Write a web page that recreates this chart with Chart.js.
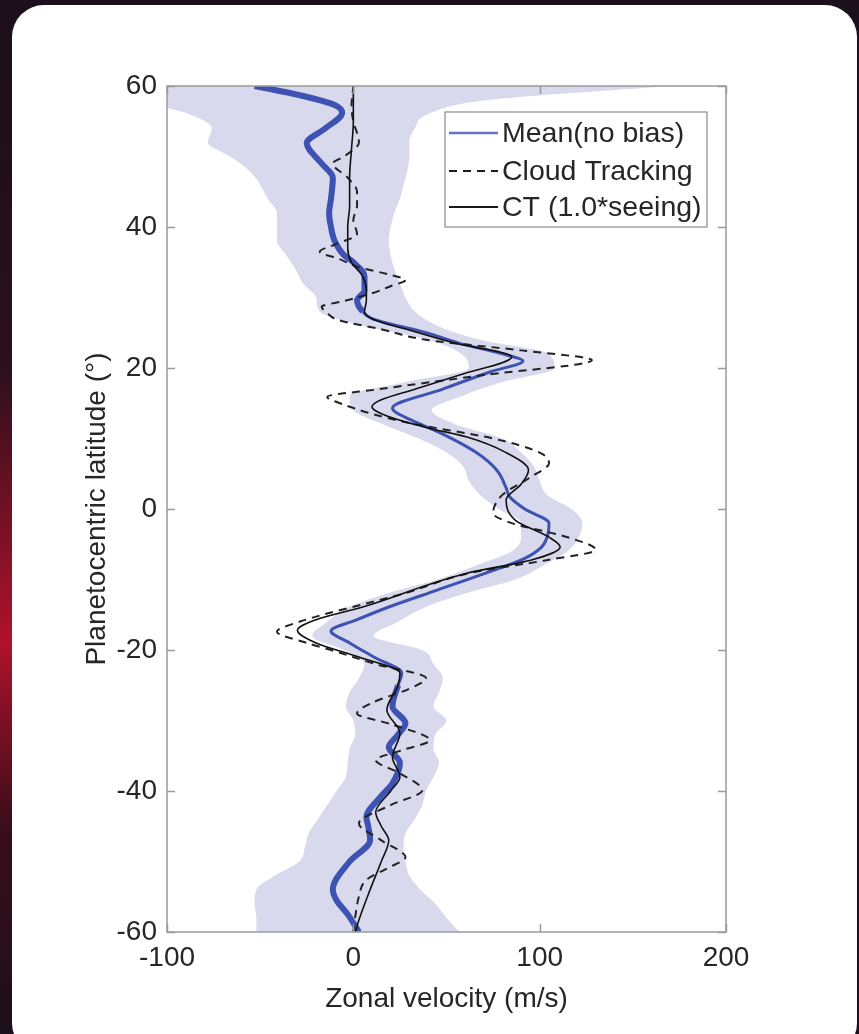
<!DOCTYPE html>
<html>
<head>
<meta charset="utf-8">
<script src="https://cdn.jsdelivr.net/npm/chart.js"></script>
<style>
  html, body { margin: 0; padding: 0; }
  body { width: 859px; height: 1034px; overflow: hidden; position: relative;
         background: #1c101c; }
  #edge { position: absolute; left: 0; top: 0; width: 14px; height: 1034px;
          background: linear-gradient(180deg, #1c101c 0%, #2a0f1c 35%, #b0122a 62%, #3a0d1a 80%, #1c101c 100%); }
  #card { position: absolute; left: 12px; top: 5px; width: 845px; height: 1050px;
          background: #fff; border-radius: 32px; }
  canvas { position: absolute; left: 0; top: 0; }
</style>
</head>
<body>
<div id="edge"></div>
<div id="card"></div>
<canvas id="velChart" width="859" height="1034"></canvas>
<script>
// shaded spread (2 deg latitude grid)
const bandLat = [-60,-58,-56,-54,-52,-50,-48,-46,-44,-42,-40,-38,-36,-34,-32,-30,-28,-26,-24,-22,-20,-18,-16,-14,-12,-10,-8,-6,-4,-2,0,2,4,6,8,10,12,14,16,18,20,22,24,26,28,30,32,34,36,38,40,42,44,46,48,50,52,54,56,58,60];
const bandLow = [-52,-52,-53,-52,-42,-29,-26,-24,-19,-14,-9,-4,-3,-2,1,0,-4,-2,3,6,-5,-22,-14,-3,18,45,66,85,90,90,78,68,62,59,50,35,16,0,-2,28,62,58,40,5,-18,-20,-27,-31,-36,-41,-41,-41,-46,-50,-56,-66,-78,-76,-88,-115,-120];
const bandHigh = [57,50,44,36,30,28,27,28,33,37,39,43,46,43,44,50,43,46,48,43,37,11,24,38,60,87,102,115,121,123,117,104,100,97,90,80,55,42,58,80,108,105,68,45,33,28,25,22,20,19,20,22,25,27,29,30,30,33,40,72,170];

// Mean (no bias)
const meanLat = [-60,-57.5,-55.5,-54,-50,-47,-45,-43.7,-41,-38.9,-36,-33.8,-32,-30.4,-28,-25,-23.3,-21,-19,-17.3,-15.7,-13.9,-11.5,-9.1,-7,-5.4,-4,-2,0,1.7,3,5.5,8,11,12.5,14.3,17,19.5,21,22,23.5,25,27,28,29.6,31,33,35,36,38,40,42,44,47,49,51.9,54,56.2,57.3,58.7,60];
const meanVel = [3,-3,-9,-11,-2,9,8,7,14,21,25,19,24,28,21,24,26,11,-2,-12,2,19,45,71,92,101,104,105,92,84,82,77,66,45,32,21,48,74,91,80,57,39,10,5,2,6,6,0,-5,-10,-12,-13,-12,-11,-17,-25,-15,-6,-10,-29,-53];

// Cloud Tracking (dashed)
const ctLat = [-60,-57.9,-55,-52.6,-51,-49.4,-47,-44.6,-42,-39.9,-37.5,-35.6,-34.3,-32.8,-30.5,-29,-27.5,-25.5,-24,-22,-20,-19,-17.4,-16,-12,-9,-7.2,-5.8,-4,-2,-0.6,2,4.5,6.5,8,10,12.2,13.5,14.8,15.9,17,19,21.1,22.5,24,25.5,26.8,27.8,28.7,29.5,30.6,31.6,32.5,33.2,34.3,35.5,36.5,37.5,39,41,43,45,47,49,50,52,55,57,60];
const ctVel = [0,1,3,7,18,28,15,3,20,37,25,12,25,41,20,2,10,30,39,12,-12,-25,-41,-29,27,64,105,130,115,85,75,80,95,105,100,75,30,10,-5,-14,14,70,128,90,39,15,-8,-14,-17,-5,10,20,28,20,3,-8,-18,-10,2,0,2,2,-3,-11,-5,3,0,-1,0];

// CT (1.0*seeing)
const seeLat = [-60,-58.3,-54,-50,-47,-45,-43,-40,-38,-35.2,-31.8,-28.5,-25,-23.3,-21,-19,-17.2,-15.7,-13.9,-9.1,-7.2,-5.4,-4,-1.6,1.3,3.5,5.5,8,10.2,11.5,13,14.5,15.5,17,19,21.6,23.5,25,27,28,29.6,31,33,35,37,40,43,47,51,55,60];
const seeVel = [1,3,9,15,19,15,12,20,25,21,25,18,24,25,3,-20,-30,-20,5,61,96,111,105,87,82,90,94,82,61,40,20,10,15,33,57,85,55,35,10,6,7,7,5,-1,-3,-3,-2,-2,-1,0,0];

const legendItems = ["Mean(no bias)", "Cloud Tracking", "CT (1.0*seeing)"];

const xTicks = [-100, 0, 100, 200];
const yTicks = [-60, -40, -20, 0, 20, 40, 60];

function pts(lat, vel) {
  return lat.map((v, i) => ({ x: vel[i], y: v }));
}

const textColor = "#262626";
const font = { family: "'Liberation Sans', Arial, sans-serif", size: 28 };

const framePlugin = {
  id: "frame",
  afterDatasetsDraw(chart) {
    const { ctx, chartArea: a, scales: { x, y } } = chart;
    ctx.save();
    ctx.strokeStyle = "#9a9a9a";
    ctx.lineWidth = 1.5;
    ctx.strokeRect(a.left, a.top, a.right - a.left, a.bottom - a.top);
    ctx.beginPath();
    xTicks.forEach(v => {
      const px = Math.round(x.getPixelForValue(v)) + 0.5;
      ctx.moveTo(px, a.bottom); ctx.lineTo(px, a.bottom - 8);
      ctx.moveTo(px, a.top); ctx.lineTo(px, a.top + 8);
    });
    yTicks.forEach(v => {
      const py = Math.round(y.getPixelForValue(v)) + 0.5;
      ctx.moveTo(a.left, py); ctx.lineTo(a.left + 8, py);
      ctx.moveTo(a.right, py); ctx.lineTo(a.right - 8, py);
    });
    ctx.stroke();

    // legend box, top right inside the axes
    const bx = a.right - 281, by = a.top + 26, bw = 262, bh = 115;
    ctx.fillStyle = "#fff";
    ctx.fillRect(bx, by, bw, bh);
    ctx.strokeStyle = "#8c8c8c";
    ctx.lineWidth = 1.2;
    ctx.strokeRect(bx, by, bw, bh);
    const rows = [21, 59, 95];
    const styles = [
      { c: "#6672c4", w: 2.5, d: [] },
      { c: "#1a1a1a", w: 2, d: [8, 6] },
      { c: "#1a1a1a", w: 2, d: [] }
    ];
    ctx.font = "28.5px " + font.family;
    ctx.textBaseline = "middle";
    legendItems.forEach((txt, i) => {
      const ry = by + rows[i];
      ctx.strokeStyle = styles[i].c;
      ctx.lineWidth = styles[i].w;
      ctx.setLineDash(styles[i].d);
      ctx.beginPath();
      ctx.moveTo(bx + 4, ry); ctx.lineTo(bx + 53, ry);
      ctx.stroke();
      ctx.setLineDash([]);
      ctx.fillStyle = textColor;
      ctx.fillText(txt, bx + 57, ry + 1);
    });
    ctx.restore();
  }
};

new Chart(document.getElementById("velChart"), {
  type: "line",
  data: {
    datasets: [
      {
        label: "high",
        data: pts(bandLat, bandHigh),
        borderWidth: 0,
        pointRadius: 0,
        backgroundColor: "#d9d9ee",
        fill: "+1",
        cubicInterpolationMode: "monotone",
        order: 10
      },
      {
        label: "low",
        data: pts(bandLat, bandLow),
        borderWidth: 0,
        pointRadius: 0,
        fill: false,
        cubicInterpolationMode: "monotone",
        order: 11
      },
      {
        label: legendItems[0],
        data: pts(meanLat, meanVel),
        borderColor: "#3d52b1",
        borderWidth: 3,
        segment: {
          borderWidth: c => Math.abs(c.p0.parsed.y) > 27 ? 6 : 3
        },
        pointRadius: 0,
        fill: false,
        cubicInterpolationMode: "monotone",
        order: 3
      },
      {
        label: legendItems[1],
        data: pts(ctLat, ctVel),
        borderColor: "#222",
        borderWidth: 2,
        borderDash: [8, 6],
        pointRadius: 0,
        fill: false,
        cubicInterpolationMode: "monotone",
        order: 2
      },
      {
        label: legendItems[2],
        data: pts(seeLat, seeVel),
        borderColor: "#111",
        borderWidth: 1.6,
        pointRadius: 0,
        fill: false,
        cubicInterpolationMode: "monotone",
        order: 1
      }
    ]
  },
  options: {
    indexAxis: "y",
    responsive: false,
    animation: false,
    devicePixelRatio: 1,
    events: [],
    layout: { padding: { left: 80, right: 133, top: 86, bottom: 18 } },
    plugins: {
      legend: { display: false },
      tooltip: { enabled: false },
      filler: { drawTime: "beforeDatasetsDraw" }
    },
    scales: {
      x: {
        type: "linear",
        min: -100,
        max: 200,
        afterBuildTicks: s => { s.ticks = xTicks.map(v => ({ value: v })); },
        afterFit: s => { s.height = 84; },
        grid: { display: false, drawTicks: false },
        border: { display: false },
        ticks: { color: textColor, font: font, padding: 9, maxRotation: 0 },
        title: { display: true, text: "Zonal velocity (m/s)", color: textColor, font: font, padding: 0 }
      },
      y: {
        type: "linear",
        min: -60,
        max: 60,
        afterBuildTicks: s => { s.ticks = yTicks.map(v => ({ value: v })); },
        afterFit: s => { s.width = 87; },
        grid: { display: false, drawTicks: false },
        border: { display: false },
        ticks: { color: textColor, font: font, padding: 10 },
        title: { display: true, text: "Planetocentric latitude (°)", color: textColor, font: font, padding: 0 }
      }
    }
  },
  plugins: [framePlugin]
});
</script>
</body>
</html>
